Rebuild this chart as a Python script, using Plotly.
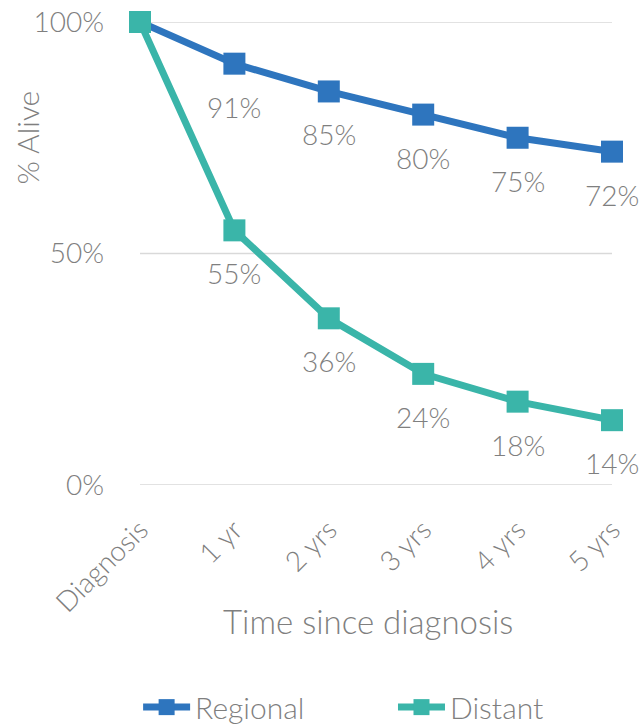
import plotly.graph_objects as go

# Survival after diagnosis, by stage
categories = ["Diagnosis", "1 yr", "2 yrs", "3 yrs", "4 yrs", "5 yrs"]
regional = [100, 91, 85, 80, 75, 72]
distant = [100, 55, 36, 24, 18, 14]
y_ticks = [0, 50, 100]
y_tick_labels = ["0%", "50%", "100%"]

BLUE = "#2E75BE"
TEAL = "#3AB5A9"
GREY = "#7F7F7F"
GRID = "#D9D9D9"
FONT = "Lato"

fig = go.Figure()

# horizontal gridlines at each y tick
for t in y_ticks:
    fig.add_shape(type="line", xref="paper", yref="y", x0=0, x1=1, y0=t, y1=t,
                  line=dict(color=GRID, width=1.5), layer="below")

series = [("Regional", regional, BLUE, "legend"), ("Distant", distant, TEAL, "legend2")]
for name, values, color, leg in series:
    fig.add_trace(go.Scatter(
        x=list(range(len(categories))), y=values, name=name,
        mode="lines+markers", legend=leg,
        line=dict(color=color, width=7),
        marker=dict(symbol="square", size=22, color=color),
        cliponaxis=False,
    ))
    # value labels under every point after diagnosis
    for i, v in enumerate(values):
        if i == 0:
            continue
        fig.add_annotation(
            x=i, y=v, text=f"{v}%", showarrow=False, yshift=-43,
            xanchor="center", yanchor="middle",
            font=dict(family=FONT, size=28, color=GREY, weight=300),
        )

fig.add_annotation(
    xref="paper", yref="paper", x=-0.24, y=0.75, text="% Alive",
    textangle=-90, showarrow=False, xanchor="center", yanchor="middle",
    font=dict(family=FONT, size=30, color=GREY, weight=300),
)
fig.add_annotation(
    xref="paper", yref="paper", x=0.483, y=-0.293, text="Time since diagnosis",
    showarrow=False, xanchor="center", yanchor="middle",
    font=dict(family=FONT, size=33, color=GREY, weight=300),
)

legend_style = dict(
    orientation="h", xanchor="left",
    yref="container", y=0.026, yanchor="middle",
    font=dict(family=FONT, size=30, color=GREY, weight=300),
    itemwidth=47,
)

fig.update_layout(
    width=641, height=726,
    margin=dict(l=140, r=29, t=22, b=241),
    paper_bgcolor="white", plot_bgcolor="white",
    font=dict(family=FONT, color=GREY, weight=300),
    showlegend=True,
    legend=dict(x=-0.004, **legend_style),
    legend2=dict(x=0.536, **legend_style),
    xaxis=dict(
        range=[0, len(categories) - 1], automargin=False,
        tickmode="array", tickvals=list(range(len(categories))), ticktext=categories,
        tickangle=-45, showgrid=False, zeroline=False, showline=False, ticks="",
        ticklabelstandoff=22,
        tickfont=dict(family=FONT, size=28, color=GREY, weight=300),
    ),
    yaxis=dict(
        range=[0, 100], automargin=False,
        tickmode="array", tickvals=y_ticks, ticktext=y_tick_labels,
        showgrid=False, zeroline=False, showline=False, ticks="",
        ticklabelstandoff=35,
        tickfont=dict(family=FONT, size=28, color=GREY, weight=300),
    ),
)

fig.write_html("out.html")
